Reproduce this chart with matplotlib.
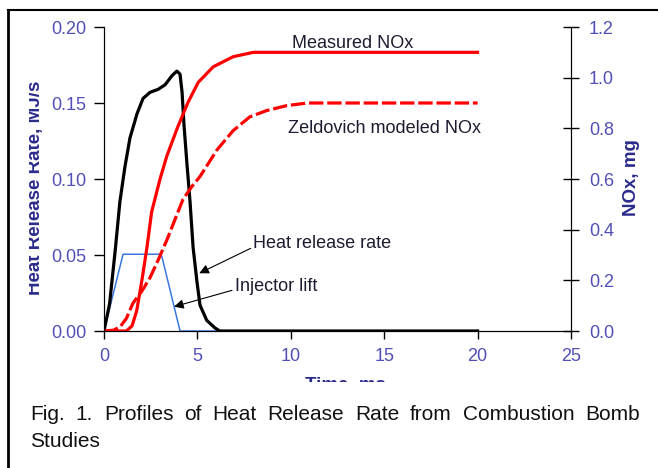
import numpy as np
import matplotlib
matplotlib.use("Agg")
import matplotlib.pyplot as plt
from matplotlib.lines import Line2D
from matplotlib.transforms import Bbox, TransformedBbox

plt.rcParams["font.family"] = ["Liberation Sans", "DejaVu Sans"]

# heat release rate (MJ/s), left axis
t_hrr = [0, 0.3, 0.6, 0.85, 1.12, 1.39, 1.77, 2.09, 2.46, 2.9, 3.27, 3.64, 3.9,
         4.07, 4.18, 4.28, 4.44, 4.6, 4.77, 4.98, 5.14, 5.5, 5.94, 6.2, 20]
hrr = [0, 0.018, 0.053, 0.085, 0.108, 0.127, 0.143, 0.153, 0.157, 0.159, 0.162,
       0.168, 0.171, 0.169, 0.157, 0.136, 0.110, 0.086, 0.055, 0.032, 0.017,
       0.007, 0.002, 0, 0]

# injector lift, scaled on left axis
t_lift = [0, 1.02, 3.0, 3.1, 4.07, 6.85]
lift = [0, 0.0505, 0.0505, 0.049, 0, 0]

# NOx (mg), right axis
t_meas = [0, 1.2, 1.5, 1.75, 2.03, 2.3, 2.55, 3.0, 3.36, 3.95, 4.5, 5.05, 5.85,
          6.92, 8.0, 20]
nox_meas = [0, 0, 0.02, 0.08, 0.2, 0.33, 0.47, 0.6, 0.69, 0.806, 0.903, 0.982,
            1.043, 1.083, 1.10, 1.10]

t_zeld = [0, 0.5, 0.86, 1.2, 1.55, 2.05, 2.46, 2.9, 3.37, 3.8, 4.23, 4.7, 5.14,
          6.05, 6.9, 7.8, 8.7, 9.8, 10.9, 20]
nox_zeld = [0, 0.003, 0.016, 0.05, 0.11, 0.16, 0.21, 0.28, 0.36, 0.44, 0.52,
            0.57, 0.61, 0.715, 0.79, 0.845, 0.87, 0.89, 0.90, 0.90]

x_ticks = [0, 5, 10, 15, 20, 25]
left_ticks = [0.00, 0.05, 0.10, 0.15, 0.20]
right_ticks = [0.0, 0.2, 0.4, 0.6, 0.8, 1.0, 1.2]

tick_col = "#5050b8"
lab_col = "#2b2b8c"
txt_col = "#1c1c30"
W, H = 658, 468

fig = plt.figure(figsize=(W / 100, H / 100), dpi=100)
ax = fig.add_axes([104 / W, 1 - 331 / H, (571 - 104) / W, (331 - 27) / H])
ax2 = ax.twinx()

ax.plot(t_lift, lift, color="#3a78e0", lw=1.1, zorder=2)
ax.plot(t_hrr, hrr, color="black", lw=2.3, zorder=3)
ax2.plot(t_meas, nox_meas, color="#ff0000", lw=2.3)
ax2.plot(t_zeld, nox_zeld, color="#ff0000", lw=2.3, dashes=(4.5, 1.2))

ax.set_xlim(0, 25)
ax.set_ylim(0, 0.20)
ax2.set_ylim(0, 1.2)
ax.set_xticks(x_ticks)
ax.set_yticks(left_ticks)
ax.set_yticklabels([f"{v:.2f}" for v in left_ticks])
ax2.set_yticks(right_ticks)
ax2.set_yticklabels([f"{v:.1f}" for v in right_ticks])

for a in (ax, ax2):
    a.spines["top"].set_visible(False)
    a.patch.set_visible(False)
ax.tick_params(axis="x", direction="out", length=6, width=1, labelsize=13,
               labelcolor=tick_col, pad=6)
ax.tick_params(axis="y", direction="out", length=7, width=1, labelsize=13,
               labelcolor=tick_col, pad=5.8)
ax2.tick_params(axis="y", direction="inout", length=12, width=1, labelsize=13,
                labelcolor=tick_col, pad=7)

# annotations
ax.text(13.3, 0.189, "Measured NOx", fontsize=13, color=txt_col, ha="center", va="center")
ax2.text(15.0, 0.80, "Zeldovich modeled NOx", fontsize=13, color=txt_col, ha="center", va="center")
ax.annotate("Heat release rate", xy=(5.1, 0.038), xytext=(8.0, 0.0575),
            fontsize=13, color=txt_col, va="center",
            arrowprops=dict(arrowstyle="-|>", color="black", lw=0.8,
                            mutation_scale=14, shrinkA=0, shrinkB=0,
                            relpos=(0, 0.3)))
ax.annotate("Injector lift", xy=(3.75, 0.016), xytext=(7.0, 0.0295),
            fontsize=13, color=txt_col, va="center",
            arrowprops=dict(arrowstyle="-|>", color="black", lw=0.8,
                            mutation_scale=14, shrinkA=0, shrinkB=0,
                            relpos=(0, 0.3)))

# axis labels, clipped by the pasted image box
clip = TransformedBbox(Bbox([[29 / W, 1 - 382 / H], [1, 1]]), fig.transFigure)
ylab = fig.text(40 / W, 1 - 188 / H, "Heat Release Rate, MJ/s", rotation=90,
                rotation_mode="anchor", fontsize=13.5, fontweight="bold",
                color=lab_col, ha="center", va="baseline")
xlab = fig.text(345 / W, 1 - 390 / H, "Time, ms", fontsize=13.5,
                fontweight="bold", color=lab_col, ha="center", va="baseline")
for tx in (ylab, xlab):
    tx.set_clip_box(clip)
    tx.set_clip_on(True)
fig.text(636 / W, 1 - 178 / H, "NOx, mg", rotation=90, rotation_mode="anchor",
         fontsize=13.5, fontweight="bold", color=lab_col,
         ha="center", va="baseline")

# frame lines
fig.add_artist(Line2D([8 / W, 8 / W], [0, 1 - 10 / H], color="black", lw=2,
                      transform=fig.transFigure))
fig.add_artist(Line2D([8 / W, 1], [1 - 10 / H, 1 - 10 / H], color="black", lw=1.5,
                      transform=fig.transFigure))

# caption, first line justified between x=30 and x=640
cap_words = ["Fig.", "1.", "Profiles", "of", "Heat", "Release", "Rate", "from",
             "Combustion", "Bomb"]
renderer = fig.canvas.get_renderer()
objs = [fig.text(0, 1 - 420 / H, w, fontsize=15, color="#111111", va="baseline")
        for w in cap_words]
widths = [o.get_window_extent(renderer).width for o in objs]
gap = (640 - 30 - sum(widths)) / (len(objs) - 1)
x = 30
for o, wd in zip(objs, widths):
    o.set_x(x / W)
    x += wd + gap
fig.text(30 / W, 1 - 447 / H, "Studies", fontsize=15, color="#111111", va="baseline")

fig.savefig("out.png", dpi=100)
